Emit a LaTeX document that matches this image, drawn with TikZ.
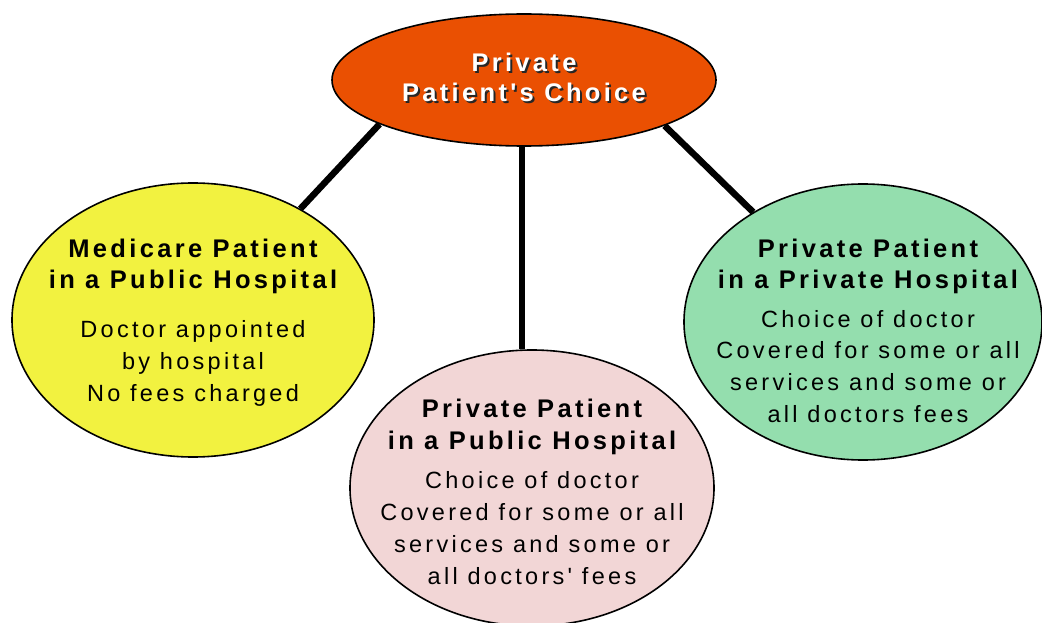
\documentclass[tikz,border=0pt]{standalone}
\usepackage{fontspec}
\setmainfont{Liberation Sans}
\usetikzlibrary{shapes.geometric,backgrounds}
\newfontfamily\headfont[LetterSpace=13]{Liberation Sans Bold}
\newfontfamily\bodyfont[LetterSpace=14]{Liberation Sans}
\definecolor{choiceorange}{RGB}{234,80,2}
\definecolor{medyellow}{RGB}{242,242,64}
\definecolor{pubpink}{RGB}{242,214,214}
\definecolor{privgreen}{RGB}{148,222,174}
\tikzset{
  bubble/.style={ellipse, draw=black, line width=1.6pt, inner sep=0pt},
  link/.style={line width=6.5pt, black},
  ttl/.style={anchor=base, inner sep=0pt, font=\headfont\fontsize{25.5}{28}\selectfont},
  txt/.style={anchor=base, inner sep=0pt, font=\bodyfont\fontsize{23.5}{26}\selectfont},
  wht/.style={ttl, text=white},
  shd/.style={ttl, text=black!85},
}
\begin{document}
\begin{tikzpicture}[x=1pt,y=-1pt]
\useasboundingbox (0,0) rectangle (1042,623);

% the four bubbles
\node[bubble, fill=choiceorange, minimum width=384pt, minimum height=132pt] (top) at (524,80) {};
\node[bubble, fill=medyellow, minimum width=362pt, minimum height=274pt] (yel) at (193,320) {};
\node[bubble, fill=pubpink, minimum width=364pt, minimum height=276pt] (pink) at (532,488) {};
\node[bubble, fill=privgreen, minimum width=358pt, minimum height=276pt] (grn) at (863,322) {};

% connectors behind the bubbles
\begin{pgfonlayer}{background}
  \draw[link] (top.197) -- (yel.46);
  \draw[link] (top.342.5) -- (grn.135);
  \draw[link] ([xshift=-2pt]top.south) -- ([xshift=-2pt]top.south |- pink.north);
\end{pgfonlayer}

% headline with drop shadow
\foreach \t [count=\i] in {Private, Patient's Choice}{
  \node[shd] (tops\i) at (526,{72+30*(\i-1)+2}) {\t};
  \node[wht] (topt\i) at (524,{72+30*(\i-1)}) {\t};
}

% yellow bubble
\foreach \t [count=\i] in {Medicare Patient, in a Public Hospital}
  \node[ttl] (yh\i) at (193,{257+31*(\i-1)}) {\t};
\foreach \t [count=\i] in {Doctor appointed, by hospital, No fees charged}
  \node[txt] (yb\i) at (193,{337+32*(\i-1)}) {\t};

% pink bubble
\foreach \t [count=\i] in {Private Patient, in a Public Hospital}
  \node[ttl] (ph\i) at (532,{417+32*(\i-1)}) {\t};
\foreach \t [count=\i] in {Choice of doctor, Covered for some or all, services and some or, all doctors' fees}
  \node[txt] (pb\i) at (532,{488+32.3*(\i-1)}) {\t};

% green bubble
\foreach \t [count=\i] in {Private Patient, in a Private Hospital}
  \node[ttl] (gh\i) at (868,{257+31*(\i-1)}) {\t};
\foreach \t [count=\i] in {Choice of doctor, Covered for some or all, services and some or, all doctors fees}
  \node[txt] (gb\i) at (868,{327+31.7*(\i-1)}) {\t};
\end{tikzpicture}
\end{document}
